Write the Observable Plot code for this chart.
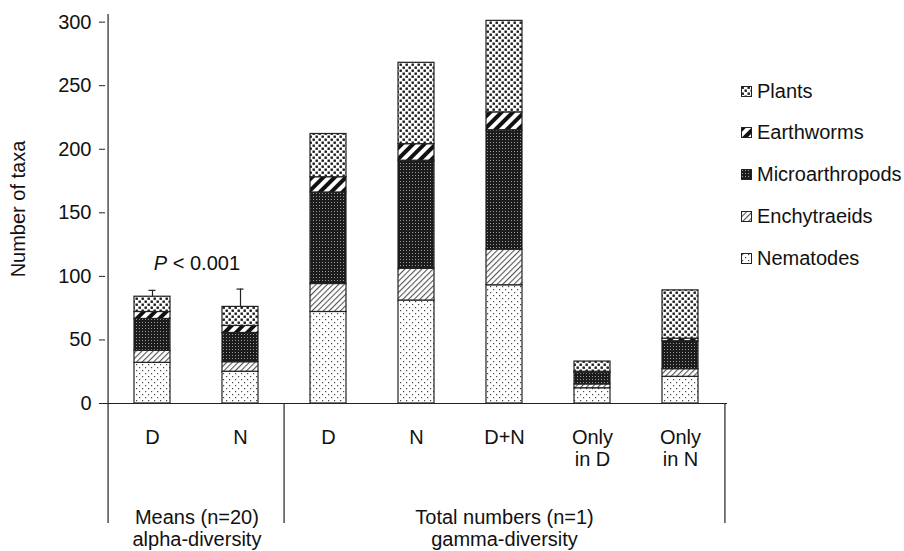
<!DOCTYPE html>
<html>
<head>
<meta charset="utf-8">
<script src="https://cdn.jsdelivr.net/npm/d3@7"></script>
<script src="https://cdn.jsdelivr.net/npm/@observablehq/plot@0.6"></script>
<style>
  body { margin: 0; background: #fff; }
  #wrap { position: relative; width: 904px; height: 551px; font-family: "Liberation Sans", Arial, sans-serif; color: #111; }
  #legend { position: absolute; left: 741px; top: 0; }
  .lrow { position: absolute; left: 0; display: flex; align-items: center; height: 22px; white-space: nowrap; font-size: 20px; }
  .lrow svg { margin-right: 5px; }
</style>
</head>
<body>
<svg width="0" height="0" style="position:absolute">
  <defs>
    <pattern id="p-nem" width="6" height="6" patternUnits="userSpaceOnUse">
      <rect width="6" height="6" fill="#fff"/>
      <rect x="1" y="1" width="1.2" height="1.2" fill="#444"/>
      <rect x="4" y="4" width="1.2" height="1.2" fill="#444"/>
    </pattern>
    <pattern id="p-enc" width="4" height="4" patternUnits="userSpaceOnUse" patternTransform="rotate(45)">
      <rect width="4" height="4" fill="#fff"/>
      <rect x="0" y="0" width="1.1" height="4" fill="#555"/>
    </pattern>
    <pattern id="p-mic" width="3" height="3" patternUnits="userSpaceOnUse">
      <rect width="3" height="3" fill="#1c1c1c"/>
      <rect x="1" y="1" width="1" height="1" fill="#9a9a9a"/>
    </pattern>
    <pattern id="p-ear" width="8" height="8" patternUnits="userSpaceOnUse" patternTransform="rotate(45)">
      <rect width="8" height="8" fill="#fff"/>
      <rect x="0" y="0" width="4" height="8" fill="#111"/>
    </pattern>
    <pattern id="p-pla" width="6" height="6" patternUnits="userSpaceOnUse">
      <rect width="6" height="6" fill="#fff"/>
      <rect x="0.5" y="0.5" width="2.4" height="2.4" fill="#1a1a1a"/>
      <rect x="3.5" y="3.5" width="2.4" height="2.4" fill="#1a1a1a"/>
    </pattern>
  </defs>
</svg>
<div id="wrap"><div id="legend"></div></div>
<script>
// ---- data ----
const categories = ["aD", "aN", "gD", "gN", "gDN", "gOD", "gON"];
const categoryLabels = ["D", "N", "D", "N", "D+N", "Only\nin D", "Only\nin N"];
const taxa = ["Nematodes", "Enchytraeids", "Microarthropods", "Earthworms", "Plants"];
const nematodes       = [32, 25, 72, 81, 93, 12, 21];
const enchytraeids    = [9.5, 7.5, 22, 25, 28, 3, 6];
const microarthropods = [25, 23, 72, 85, 94, 9, 22];
const earthworms      = [5.5, 5.5, 12, 13, 14, 1, 2];
const plants          = [12, 15, 34, 64, 72, 8, 38];
const errorCategories = ["aD", "aN"];
const errorValues = [5, 14];
const yTicks = [0, 50, 100, 150, 200, 250, 300];
const groupLabels = ["Means (n=20)\nalpha-diversity", "Total numbers (n=1)\ngamma-diversity"];
const pLabel = "P < 0.001";
const patternUrls = ["url(#p-nem)", "url(#p-enc)", "url(#p-mic)", "url(#p-ear)", "url(#p-pla)"];

// ---- build table ----
const seriesValues = [nematodes, enchytraeids, microarthropods, earthworms, plants];
const rows = [];
taxa.forEach((t, j) => categories.forEach((c, i) => rows.push({cat: c, taxon: t, value: seriesValues[j][i]})));
const totals = categories.map((c, i) => d3.sum(seriesValues, s => s[i]));
const errRows = errorCategories.map((c, k) => {
  const top = totals[categories.indexOf(c)];
  return {cat: c, top, upper: top + errorValues[k]};
});
const labelMap = new Map(categories.map((c, i) => [c, categoryLabels[i]]));

// ---- layout ----
const W = 904, H = 551, ML = 105, MR = 177, MT = 14, MB = 148;
const step = (W - ML - MR) / categories.length;
const frameH = H - MT - MB;
const ink = "#222";

const chart = Plot.plot({
  width: W, height: H,
  marginLeft: ML, marginRight: MR, marginTop: MT, marginBottom: MB,
  style: {fontFamily: "'Liberation Sans', Arial, sans-serif", fontSize: "20px", color: "#111", background: "transparent", overflow: "visible"},
  x: {domain: categories, paddingInner: 0.59, paddingOuter: 0.295, label: null},
  y: {domain: [0, 306], label: null},
  color: {domain: taxa, range: patternUrls},
  marks: [
    Plot.barY(rows, Plot.stackY({x: "cat", y: "value", fill: "taxon", order: taxa, stroke: ink, strokeWidth: 1.2})),
    Plot.ruleX(errRows, {x: "cat", y1: "top", y2: "upper", stroke: ink, strokeWidth: 1.2}),
    Plot.tickY(errRows, {x: "cat", y: "upper", insetLeft: 14.5, insetRight: 14.5, stroke: ink, strokeWidth: 1.2}),
    Plot.ruleY([0], {stroke: ink, strokeWidth: 1.2}),
    Plot.axisY({ticks: yTicks, tickSize: 6, tickPadding: 8, label: "Number of taxa", labelAnchor: "center", labelArrow: "none", labelOffset: 95, stroke: ink}),
    Plot.axisX({tickSize: 0, tickPadding: 25, tickFormat: d => labelMap.get(d), lineHeight: 1.1, label: null}),
    // group dividers
    Plot.ruleX([categories[0]], {x: d => d, dx: -step / 2, insetBottom: -120, stroke: ink, strokeWidth: 1.2}),
    Plot.ruleX([categories[2]], {x: d => d, dx: -step / 2, insetTop: frameH, insetBottom: -120, stroke: ink, strokeWidth: 1.2}),
    Plot.ruleX([categories[categories.length - 1]], {x: d => d, dx: step / 2, insetTop: frameH, insetBottom: -120, stroke: ink, strokeWidth: 1.2}),
    // group labels
    Plot.text([groupLabels[0]], {x: () => categories[0], text: d => d, dx: step / 2, frameAnchor: "bottom", lineAnchor: "top", dy: 105, lineHeight: 1.1, fill: "#111"}),
    Plot.text([groupLabels[1]], {x: () => categories[4], text: d => d, frameAnchor: "bottom", lineAnchor: "top", dy: 105, lineHeight: 1.1, fill: "#111"}),
    // significance
    Plot.text([d3.max(errRows, d => d.upper)], {x: () => categories[0], y: d => d, text: () => pLabel, dx: step / 2, dy: -25, fill: "#111"})
  ]
});
document.getElementById("wrap").prepend(chart);

// italic P
d3.select(chart).selectAll("text").each(function() {
  const el = d3.select(this);
  if (el.text() === pLabel) {
    el.text(null);
    el.append("tspan").attr("font-style", "italic").text("P");
    el.append("tspan").text(pLabel.slice(1));
  }
});

// ---- legend (top item first) ----
const legend = d3.select("#legend");
const legendOrder = taxa.slice().reverse();
const legendCenters = [91, 132, 174, 216, 258];
legendOrder.forEach((t, k) => {
  const row = legend.append("div").attr("class", "lrow").style("top", (legendCenters[k] - 11) + "px");
  const s = row.append("svg").attr("width", 11).attr("height", 11);
  s.append("rect").attr("x", 0.5).attr("y", 0.5).attr("width", 10).attr("height", 10)
    .attr("fill", patternUrls[taxa.indexOf(t)]).attr("stroke", ink).attr("stroke-width", 1);
  row.append("span").text(t);
});
</script>
</body>
</html>
